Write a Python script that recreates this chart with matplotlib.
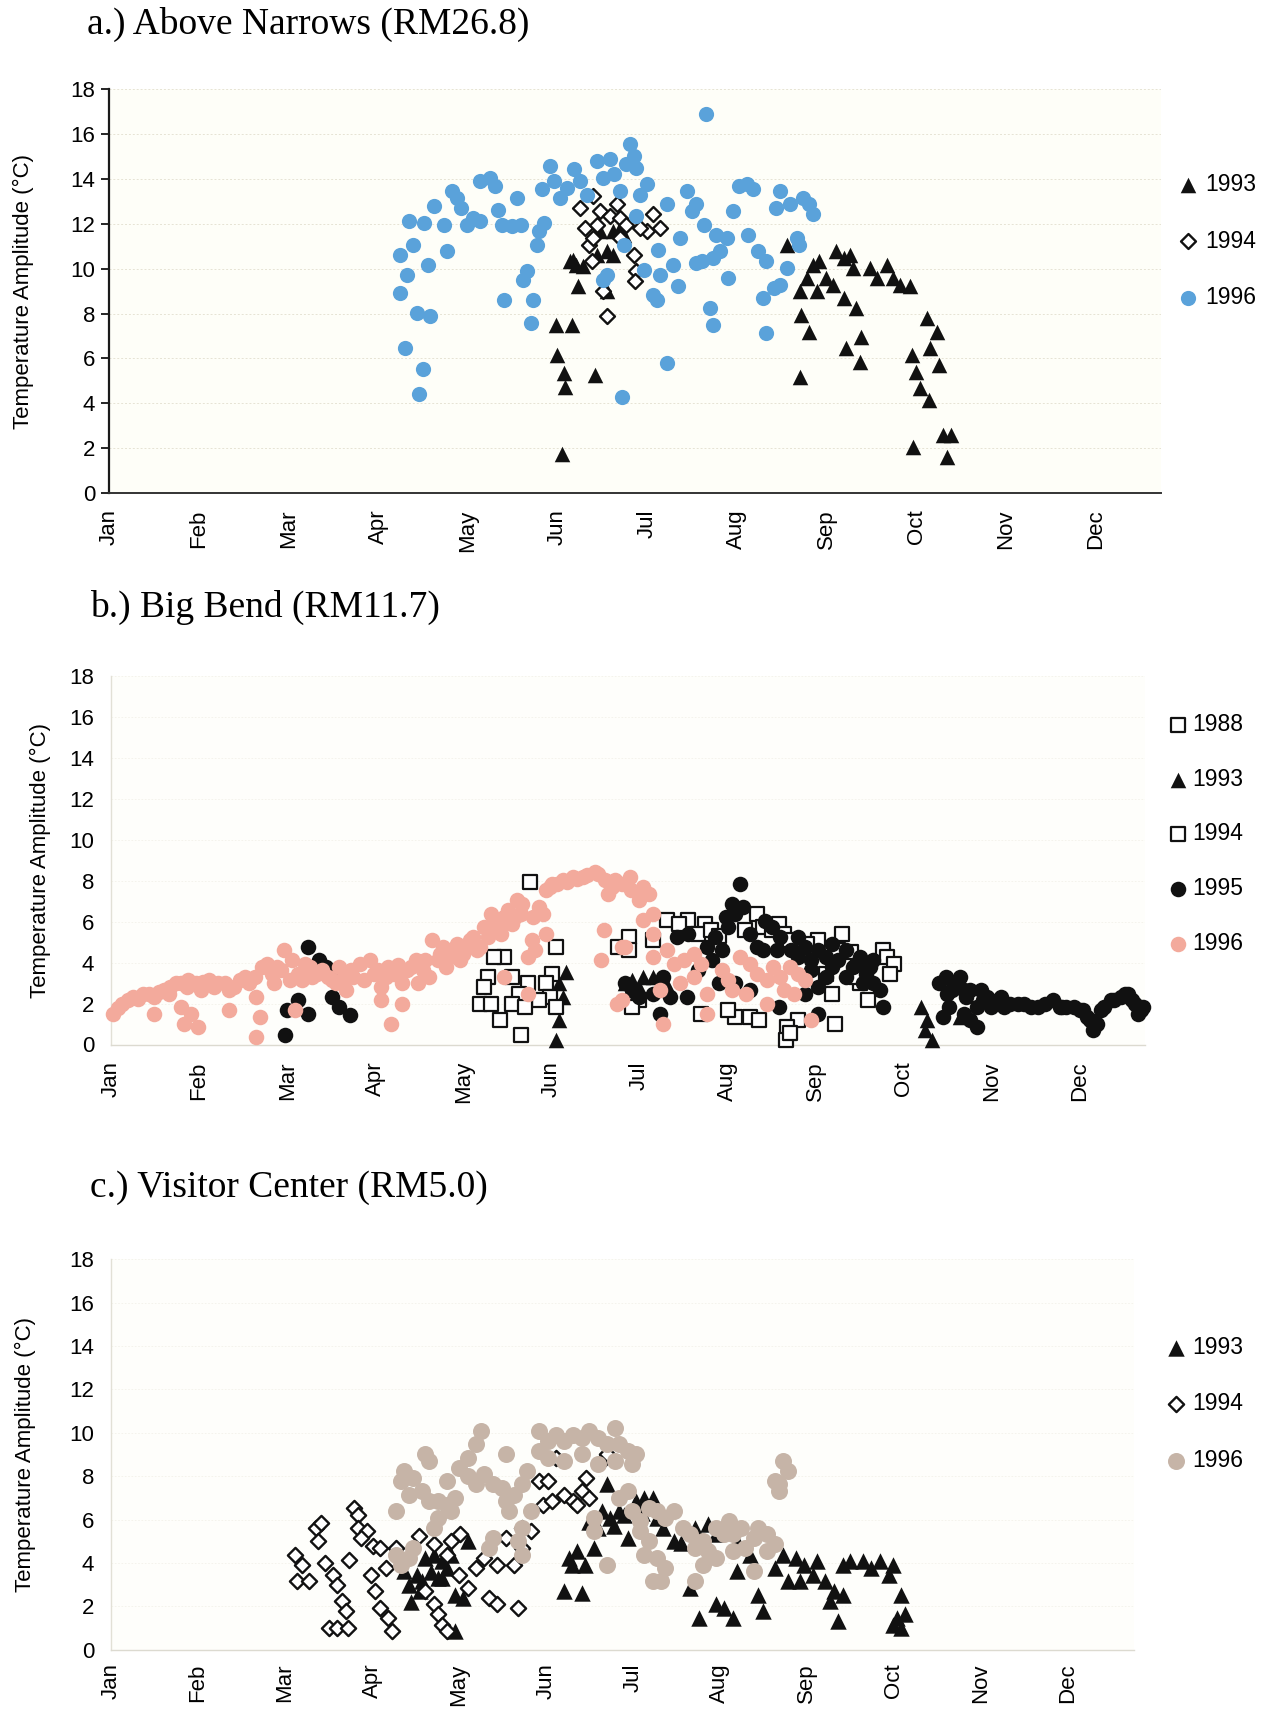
import matplotlib
matplotlib.use("Agg")
import matplotlib.pyplot as plt

plt.rcParams['font.family'] = ['Liberation Sans', 'DejaVu Sans']

MONTHS = ['Jan', 'Feb', 'Mar', 'Apr', 'May', 'Jun', 'Jul', 'Aug', 'Sep', 'Oct', 'Nov', 'Dec']
Y_TICKS = [0, 2, 4, 6, 8, 10, 12, 14, 16, 18]
TITLES = ['a.) Above Narrows (RM26.8)', 'b.) Big Bend (RM11.7)', 'c.) Visitor Center (RM5.0)']
YLABEL = 'Temperature Amplitude (°C)'

# x = month position (0 = 1 Jan, 1 = 1 Feb, ...), y = temperature amplitude (°C)
a_1993 = [(5.05,1.75),(4.98,7.49),(5.16,7.49),(5.0,6.15),(5.07,5.33),(5.09,4.73),(5.42,5.25),(5.23,9.21),
          (5.14,10.33),(5.21,10.18),(5.29,10.1),(5.47,11.67),(5.55,10.78),(5.62,11.67),(5.70,11.82),(5.44,10.63),
          (5.62,10.63),(5.74,11.52),(5.55,8.99),(5.17,10.4),
          (7.56,11.07),(7.70,8.99),(7.78,9.58),(7.85,10.18),(7.92,10.33),(7.99,9.58),(8.11,10.78),(8.19,10.48),
          (8.26,10.63),(8.30,10.03),(8.07,9.28),(7.89,8.99),(8.48,10.03),(8.56,9.58),(8.67,10.18),(8.74,9.58),
          (8.82,9.28),(8.93,9.21),(8.20,8.69),(8.33,8.24),(8.39,6.97),(8.22,6.45),(8.37,5.85),(7.72,7.94),
          (7.81,7.19),(7.70,5.18),(9.12,7.79),(9.23,7.19),(9.15,6.45),(9.26,5.70),(8.95,6.15),(9.0,5.40),
          (9.04,4.66),(9.14,4.13),(8.97,2.04),(9.30,2.57),(9.39,2.57),(9.34,1.60)]
a_1994 = [(5.25,12.72),(5.31,11.82),(5.35,11.07),(5.38,10.33),(5.47,12.57),(5.59,12.34),(5.66,12.87),(5.70,12.27),
          (5.77,11.97),(5.85,10.63),(5.88,9.88),(5.87,9.43),(5.51,8.99),(5.55,7.87),(6.0,11.67),(6.07,12.42),
          (6.14,11.82),(5.92,11.82),(5.40,11.37),(5.44,11.97),(5.70,11.37),(5.40,13.24)]
a_1996 = [(3.25,10.63),(3.39,11.07),(3.35,12.12),(3.24,8.91),(3.32,9.73),(3.56,10.18),(3.62,12.79),(3.51,12.04),
          (3.43,8.01),(3.58,7.87),(3.30,6.48),(3.50,5.52),(3.46,4.43),(3.73,11.97),(3.77,10.78),(3.82,13.46),
          (3.88,13.16),(3.93,12.72),(3.99,11.97),(4.06,12.27),(4.14,13.91),(4.25,14.06),(4.30,13.69),(4.14,12.12),
          (4.34,12.64),(4.38,11.97),(4.49,11.90),(4.55,13.16),(4.59,11.97),(4.40,8.61),(4.66,9.88),(4.62,9.51),
          (4.73,8.61),(4.71,7.57),(4.77,11.07),(4.79,11.67),(4.85,12.04),(4.83,13.54),(4.92,14.58),(4.96,13.91),
          (5.03,13.16),(5.11,13.61),(5.18,14.43),(5.25,13.91),(5.33,13.31),(5.44,14.81),(5.51,14.06),(5.59,14.88),
          (5.63,14.21),(5.70,13.46),(5.77,14.66),(5.81,15.55),(5.85,15.03),(5.88,14.51),(6.00,13.76),(5.92,13.31),
          (5.74,11.07),(5.88,12.34),(5.55,9.73),(5.51,9.51),(5.72,4.28),(6.12,10.85),(6.22,12.87),(6.07,8.84),
          (6.11,8.61),(5.96,9.96),(6.14,9.73),(6.29,10.18),(6.37,11.37),(6.35,9.21),(6.44,13.46),(6.50,12.57),
          (6.22,5.78),(6.55,10.25),
          (6.66,16.9),(6.55,12.87),(6.63,11.97),(6.77,11.52),(6.89,11.37),(6.81,10.78),(6.74,10.48),(6.61,10.33),
          (6.90,9.58),(6.70,8.24),(6.74,7.49),(6.96,12.57),(7.03,13.69),(7.11,13.76),(7.18,13.54),(7.13,11.52),
          (7.24,10.78),(7.33,10.33),(7.29,8.69),(7.33,7.12),(7.44,12.72),(7.48,13.46),(7.59,12.87),(7.74,13.16),
          (7.81,12.87),(7.85,12.42),(7.67,11.37),(7.69,11.07),(7.56,10.03),(7.48,9.28),(7.41,9.13)]

b_1988 = [(5.76,4.76),(6.31,6.07),(6.55,6.07),(6.74,5.9),(6.66,5.41),(6.81,5.58),(7.33,6.39),(7.40,5.72),
          (7.50,5.58),(7.58,5.90),(7.64,5.41),(7.71,5.09),(8.03,5.09),(8.30,5.41),(8.26,4.6),(8.77,4.6),
          (8.81,4.28),(8.89,3.95),(8.85,3.46),(8.50,2.98),(8.46,3.3),(8.19,2.49),(8.12,3.46),(8.59,2.16),
          (8.22,1.02),(7.80,1.19),(7.68,0.86),(7.66,0.21),(7.71,0.54),(7.25,1.35),(7.09,1.35),(7.36,1.19),
          (7.01,1.67),(6.70,1.51),(6.0,2.16),(6.15,5.1),(6.45,5.9),(6.9,5.3),(7.2,5.6),(7.9,4.9),(8.4,4.5)]
b_1993 = [(5.17,3.54),(5.09,2.98),(5.13,2.33),(5.05,2.0),(5.09,1.19),(5.05,0.2),(5.84,2.98),(5.92,2.65),
          (9.20,1.84),(9.27,1.19),(9.32,0.21),(9.24,0.7),(9.64,1.35),(5.92,3.14),(6.04,3.30),(6.15,3.30),
          (6.0,2.81),(5.89,2.65),(6.3,3.0)]
b_1994 = [(4.76,7.93),(5.05,4.76),(5.01,3.46),(4.94,2.98),(4.98,2.33),(4.86,2.16),(4.74,2.98),(4.63,2.49),
          (4.55,3.30),(4.46,4.28),(4.35,4.28),(4.28,3.30),(4.24,2.81),(4.19,2.0),(4.31,2.0),(4.42,1.19),
          (4.55,2.0),(4.70,1.84),(4.66,0.46),(5.05,1.84),(5.88,5.25),(5.88,4.60),(5.92,1.84)]
b_1995 = [(2.24,4.76),(2.36,4.11),(2.44,3.79),(2.55,3.63),(2.51,2.33),(2.59,1.84),(2.71,1.43),(2.24,1.51),
          (2.0,1.67),(2.12,2.16),(1.98,0.46),
          (7.14,7.85),(7.05,6.88),(7.09,6.39),(6.98,6.23),(7.18,6.72),(7.42,6.05),(7.50,5.72),(7.80,5.25),
          (7.88,4.76),(8.03,4.60),(8.12,4.28),(8.19,4.93),(8.26,4.11),(8.34,4.60),(8.42,3.79),(8.50,4.28),
          (8.57,3.46),(8.65,4.11),(8.65,2.98),(8.77,1.84),(7.95,3.63),(8.03,2.81),(8.12,3.30),(6.43,5.25),
          (6.55,5.41),(6.86,5.25),(6.77,4.76),(6.15,2.49),(6.23,1.51),(5.92,2.65),(7.25,2.65),(7.58,1.84),
          (7.88,2.49),(8.03,1.51),(5.84,2.98),(6.0,2.33),(6.27,3.30),(6.35,2.33),(6.54,2.33),(6.66,3.63),
          (6.82,4.11),(6.94,4.60),(7.01,5.74),(7.25,5.41),(7.33,4.76),(7.56,4.60),(7.60,5.25),(7.72,4.60),
          (7.80,4.28),(7.95,4.11),(8.19,3.79),(8.34,3.30),(8.46,3.95),(8.54,2.98),(8.62,3.79),(8.73,2.65),
          (7.40,4.60),(7.09,2.98),(6.90,2.98),
          (9.48,3.30),(9.64,3.30),(9.68,2.65),(9.55,2.65),(9.75,2.65),(9.88,2.65),(9.90,2.16),(10.07,2.16),
          (10.21,2.0),(10.37,2.0),(10.53,1.84),(10.69,2.16),(10.80,1.84),(10.93,1.84),(11.04,1.67),(11.15,0.7),
          (11.11,1.19),(11.28,1.84),(11.35,2.16),(11.51,2.49),(11.59,2.16),(11.66,1.51),(11.72,1.84),(9.75,1.19),
          (9.83,0.86),(9.68,1.51),(9.51,1.84),(9.45,1.35),
          (9.40,2.98),(9.49,2.49),(9.57,2.98),(9.71,2.33),(9.83,1.84),(9.95,2.33),(9.99,1.84),(10.10,2.33),
          (10.14,1.84),(10.30,2.0),(10.45,1.84),(10.61,2.0),(10.77,1.84),(10.84,1.84),(11.0,1.67),(11.08,1.35),
          (11.19,1.02),(11.24,1.67),(11.39,2.16),(11.47,2.33),(11.55,2.49),(11.63,2.0),(11.70,1.67)]
b_1996 = [(0.02,1.5),(0.12,2.0),(0.25,2.33),(0.36,2.49),(0.49,2.33),(0.60,2.65),(0.67,2.81),(0.80,2.98),
          (0.87,3.14),(0.49,1.51),(0.80,1.84),(0.83,1.02),(0.99,0.86),(0.91,1.51),(1.11,3.14),(1.02,2.65),
          (1.22,2.98),(1.34,1.67),(1.34,2.65),(1.47,3.14),(1.57,2.98),(1.65,2.33),(1.69,1.35),(1.77,3.95),
          (1.89,3.79),(1.96,4.60),(1.85,2.98),(1.65,0.37),(2.05,4.11),(2.12,3.46),(2.20,3.95),(2.28,3.30),
          (2.09,1.67),(2.40,3.63),(2.51,3.14),(2.59,3.79),(2.67,2.65),(2.75,3.30),(2.83,3.95),(2.94,4.11),
          (2.99,3.46),(3.06,2.81),(3.14,3.79),(3.21,3.46),(3.18,1.02),(3.06,2.16),(3.30,2.0),(3.30,2.98),
          (3.41,3.79),(3.49,2.98),(3.56,4.11),(3.65,5.09),(3.73,4.44),(3.80,3.79),(3.88,4.60),(3.96,4.11),
          (4.04,4.76),(4.11,5.25),(4.19,4.76),(4.24,5.74),(4.31,6.39),(4.39,5.74),(4.46,6.23),(4.55,5.90),
          (4.61,7.04),(4.66,6.39),(4.74,4.28),(4.78,5.09),(4.90,6.39),(4.94,7.53),(5.01,7.85),(5.13,8.02),
          (5.25,8.18),(5.36,8.18),(5.49,8.42),(4.94,5.41),(4.81,4.60),(4.46,3.30),(4.74,2.49),(5.60,5.58),
          (5.56,4.11),(5.75,2.0),(5.80,4.76),(5.64,7.37),(5.72,8.02),
          (0.08,1.76),(0.19,2.16),(0.31,2.24),(0.43,2.49),(0.54,2.57),(0.66,2.49),(0.74,2.98),(0.86,2.81),
          (0.97,2.98),(1.05,3.06),(1.17,2.81),(1.29,2.98),(1.40,2.81),(1.52,3.30),(1.64,3.30),(1.72,3.79),
          (1.83,3.46),(1.93,3.63),(2.03,3.14),(2.17,3.14),(2.26,3.79),(2.34,3.46),(2.46,3.30),(2.56,2.98),
          (2.64,3.30),(2.73,3.63),(2.87,3.14),(3.03,3.63),(3.12,3.30),(3.26,3.87),(3.36,3.63),(3.46,4.11),
          (3.54,3.63),(3.61,3.30),(3.71,4.11),(3.77,4.76),(3.85,4.28),(3.93,4.93),(4.00,4.44),(4.08,5.09),
          (4.16,4.60),(4.28,5.25),(4.36,5.90),(4.43,5.41),(4.51,6.55),(4.59,6.23),(4.67,6.88),(4.79,6.23),
          (4.86,6.72),(4.98,7.69),(5.06,7.85),(5.18,7.93),(5.29,8.10),(5.41,8.26),(5.53,8.34),(5.61,8.02),
          (5.69,7.69),(5.80,7.85),(5.90,7.53),
          (5.89,8.18),(6.04,7.69),(6.11,7.37),(6.0,7.04),(6.15,6.39),(6.04,6.07),(6.15,5.41),(5.84,4.76),
          (5.80,2.16),(6.23,2.65),(6.27,1.02),(6.15,4.28),(6.31,4.60),(6.39,3.95),(6.51,4.11),(6.62,4.44),
          (6.70,3.95),(6.62,3.30),(6.46,2.98),(6.77,2.49),(6.77,1.51),(6.94,3.63),(7.01,3.14),(7.14,4.28),
          (7.25,3.95),(7.21,2.49),(7.33,3.46),(7.45,3.14),(7.52,3.79),(7.60,3.30),(7.71,3.79),(7.80,3.46),
          (7.88,3.14),(7.45,2.0),(7.64,2.65),(7.76,2.49),(7.95,1.19),(7.05,2.65)]

c_1993 = [(3.42,3.0),(3.37,3.62),(3.52,3.46),(3.61,4.23),(3.71,4.38),(3.81,4.08),(3.91,4.38),(3.86,3.77),
          (3.76,3.31),(3.95,2.54),(4.05,2.38),(3.95,0.85),(3.57,3.15),(4.10,5.0),(5.21,2.69),(5.41,2.62),
          (5.26,4.23),(5.36,4.54),(5.45,3.92),(5.55,4.69),(5.70,7.62),(5.65,6.38),(5.74,6.08),(5.84,6.38),
          (5.94,5.15),(6.03,6.85),(6.13,7.0),(6.23,7.0),(6.28,6.08),(6.47,5.0),(6.71,5.62),(6.86,5.77),
          (6.96,5.31),(6.76,1.46),(6.95,2.08),(7.05,1.92),(7.15,1.46),(7.20,3.62),(7.34,4.38),(7.44,2.54),
          (7.49,1.77),(7.63,3.77),(7.73,4.38),(7.88,4.23),(7.97,3.92),(8.12,4.08),(8.07,3.46),(7.78,3.15),
          (7.92,3.15),(8.21,3.15),(8.31,2.69),(8.26,2.23),(8.36,1.31),(8.41,2.54),(8.41,3.92),(8.50,4.08),
          (8.65,4.08),(8.74,3.77),(8.84,4.08),(8.94,3.46),(8.99,3.92),(9.08,2.54),(9.03,1.46),(9.13,1.62),
          (8.99,1.15),(9.08,1.0),(6.66,2.85),(7.20,5.0),(5.30,3.9),(5.50,5.9),(5.60,5.6),(5.78,5.7),
          (5.90,6.2),(6.10,6.3),(6.35,5.6),(6.55,4.9),(3.45,2.2),(3.55,2.7),(3.68,3.6),(3.80,3.3)]
c_1994 = [(2.12,4.38),(2.19,3.92),(2.14,3.15),(2.28,3.15),(2.36,5.62),(2.41,5.85),(2.38,5.0),(2.46,4.0),
          (2.55,3.46),(2.60,3.0),(2.65,2.23),(2.70,1.77),(2.51,1.0),(2.60,1.0),(2.72,1.0),(2.74,4.15),
          (2.79,6.54),(2.84,6.23),(2.84,5.62),(2.94,5.46),(2.87,5.15),(3.01,4.77),(3.09,4.69),(2.99,3.46),
          (3.04,2.69),(3.09,1.92),(3.19,1.46),(3.23,0.85),(3.16,3.77),(3.28,4.69),(3.54,5.23),(3.71,4.85),
          (3.91,5.0),(4.01,5.31),(3.86,4.38),(3.61,2.69),(3.71,2.08),(3.76,1.62),(3.81,1.15),(3.86,0.85),
          (4.0,3.46),(4.10,2.85),(4.20,3.77),(4.29,4.23),(4.34,2.38),(4.44,2.08),(4.44,3.92),(4.54,5.15),
          (4.63,3.92),(4.68,1.92),(4.73,5.62),(4.73,4.69),(4.83,5.46),(4.92,7.77),(4.97,6.69),(5.02,7.77),
          (5.07,6.85),(5.12,8.85),(5.21,7.15),(5.31,6.85),(5.36,6.69),(5.41,7.31),(5.46,7.92),(5.50,7.0),
          (5.65,8.69),(5.70,9.0)]
c_1996 = [(4.25,10.08),(4.20,9.46),(4.10,8.85),(4.0,8.38),(3.86,7.77),(3.66,8.69),(3.61,9.0),(3.47,7.92),
          (3.37,8.23),(3.33,7.77),(3.42,7.15),(3.57,7.31),(3.66,6.85),(3.76,6.85),(3.86,6.69),(3.96,7.0),
          (3.91,6.38),(3.76,6.08),(3.71,5.62),(3.28,6.38),(3.28,4.38),(3.33,3.92),(3.42,4.23),(3.47,4.69),
          (4.10,8.0),(4.20,7.62),(4.29,8.08),(4.39,7.62),(4.49,7.46),(4.54,9.0),(4.54,6.85),(4.58,6.38),
          (4.63,7.15),(4.73,7.62),(4.78,8.23),(4.83,6.38),(4.73,5.62),(4.68,5.0),(4.73,4.38),(4.39,5.15),
          (4.34,4.69),(4.92,10.08),(5.02,9.62),(5.12,9.92),(5.21,9.62),(5.31,9.92),(5.41,9.77),(5.50,10.08),
          (5.60,9.77),(5.70,9.46),(5.79,10.23),(5.84,9.46),(5.94,9.15),(6.04,9.0),(5.99,8.54),(4.92,9.15),
          (5.02,8.85),(5.21,8.69),(5.41,9.0),(5.60,8.54),(5.79,8.69),(5.94,7.31),(5.84,7.0),(5.55,6.08),
          (5.55,5.46),(5.70,3.92),(5.99,6.38),(6.08,5.92),(6.18,6.54),(6.28,6.38),(6.37,6.08),(6.47,6.38),
          (6.08,5.46),(6.18,5.0),(6.13,4.38),(6.28,4.23),(6.37,3.77),(6.32,3.15),(6.23,3.15),(6.71,3.15),
          (6.57,5.62),(6.66,5.31),(6.71,4.69),(6.81,5.0),(6.86,4.54),(6.95,5.62),(7.05,5.31),(7.10,5.92),
          (7.15,5.31),(7.24,5.62),(7.29,4.69),(7.39,5.15),(7.44,5.62),(7.54,5.31),(7.54,4.54),(7.63,4.85),
          (7.15,4.54),(6.95,4.23),(6.81,3.92),(7.39,3.62),(7.73,8.69),(7.78,8.23),(7.68,7.62),(7.63,7.77),
          (7.68,7.31)]

BLACK = '#111111'
BLUE = '#5aa2da'
PINK = '#f3aa9c'
TAN = '#c6b4a7'

TICK_FS = 16
LEG_FS = 16.5
TITLE_FS = 27

W, H = 1268, 1710
fig = plt.figure(figsize=(W / 100, H / 100), dpi=100, facecolor='white')


def frac_axes(left, top, right, bottom):
    return fig.add_axes([left / W, 1 - bottom / H, (right - left) / W, (bottom - top) / H])


def plot_series(ax, pts, **kw):
    xs = [p[0] for p in pts]
    ys = [p[1] for p in pts]
    return ax.scatter(xs, ys, clip_on=False, **kw)


def style_axes(ax, xmax, strong, label_x, xpad):
    ax.set_xlim(0, xmax)
    ax.set_ylim(0, 18)
    ax.set_xticks(range(12))
    ax.set_xticklabels(MONTHS, rotation=90, fontsize=TICK_FS)
    ax.set_yticks(Y_TICKS)
    ax.set_yticklabels([str(v) for v in Y_TICKS], fontsize=TICK_FS)
    for s in ('top', 'right'):
        ax.spines[s].set_visible(False)
    if strong:
        ax.set_facecolor('#fefef8')
        ax.spines['left'].set_color('#1a1a1a')
        ax.spines['left'].set_linewidth(1.6)
        ax.spines['bottom'].set_color('#333333')
        ax.spines['bottom'].set_linewidth(1.4)
        ax.tick_params(axis='y', length=6, width=1.2, pad=4)
        ax.yaxis.grid(True, color='#e6e3d4', linestyle=(0, (2, 2)), linewidth=0.7)
    else:
        ax.set_facecolor('#fefefb')
        ax.spines['left'].set_color('#e2e0d6')
        ax.spines['bottom'].set_color('#dcdad0')
        ax.spines['left'].set_linewidth(1.0)
        ax.spines['bottom'].set_linewidth(1.0)
        ax.tick_params(axis='y', length=0, pad=12)
        ax.yaxis.grid(True, color='#f3f2ea', linestyle=(0, (2, 2)), linewidth=0.6)
    ax.tick_params(axis='x', length=0, pad=xpad)
    ax.set_axisbelow(True)
    ax.set_ylabel(YLABEL, fontsize=TICK_FS)
    ax.yaxis.set_label_coords(label_x, 0.5)


def add_legend(ax, handles, labels, x, y, spacing, textpad):
    ax.legend(handles, labels, loc='center left', bbox_to_anchor=(x, y),
              bbox_transform=fig.transFigure, frameon=False, fontsize=LEG_FS,
              labelspacing=spacing, handlelength=0.85, handletextpad=textpad,
              borderpad=0, borderaxespad=0, scatterpoints=1)


# ---- panel a ----
fig.text(87 / W, 1 - 24 / H, TITLES[0], family='Liberation Serif', fontsize=TITLE_FS, va='center', ha='left')
axa = frac_axes(109, 89.4, 1161, 492.8)
style_axes(axa, 11.73, True, -0.0713, 12)
h1 = plot_series(axa, a_1993, marker='^', s=125, color=BLACK, linewidths=0, zorder=3)
h2 = plot_series(axa, a_1994, marker='D', s=58, facecolors='white', edgecolors=BLACK, linewidths=1.7, zorder=3)
h3 = plot_series(axa, a_1996, marker='o', s=120, color=BLUE, linewidths=0, zorder=3)
add_legend(axa, [h1, h2, h3], ['1993', '1994', '1996'], 1178 / W, 1 - 241 / H, 1.45, 0.34)

# ---- panel b ----
fig.text(90 / W, 1 - 607 / H, TITLES[1], family='Liberation Serif', fontsize=TITLE_FS, va='center', ha='left')
axb = frac_axes(111, 676, 1145, 1044.5)
style_axes(axb, 11.74, False, -0.058, 12)
g1 = plot_series(axb, b_1988, marker='s', s=100, facecolors='white', edgecolors=BLACK, linewidths=1.6, zorder=3)
g2 = plot_series(axb, b_1993, marker='^', s=125, color=BLACK, linewidths=0, zorder=3)
g3 = plot_series(axb, b_1994, marker='s', s=100, facecolors='white', edgecolors=BLACK, linewidths=1.6, zorder=3)
g4 = plot_series(axb, b_1995, marker='o', s=125, color=BLACK, linewidths=0, zorder=3)
g5 = plot_series(axb, b_1996, marker='o', s=125, color=PINK, linewidths=0, zorder=3)
add_legend(axb, [g1, g2, g3, g4, g5], ['1988', '1993', '1994', '1995', '1996'],
           1168 / W, 1 - 834 / H, 1.38, 0.22)

# ---- panel c ----
fig.text(90 / W, 1 - 1188 / H, TITLES[2], family='Liberation Serif', fontsize=TITLE_FS, va='center', ha='left')
axc = frac_axes(111, 1259.3, 1134, 1649.6)
style_axes(axc, 11.76, False, -0.0733, 10)
k1 = plot_series(axc, c_1993, marker='^', s=140, color=BLACK, linewidths=0, zorder=3)
k2 = plot_series(axc, c_1994, marker='D', s=60, facecolors='white', edgecolors=BLACK, linewidths=1.7, zorder=3)
k3 = plot_series(axc, c_1996, marker='o', s=150, color=TAN, linewidths=0, zorder=3)
add_legend(axc, [k1, k2, k3], ['1993', '1994', '1996'], 1166 / W, 1 - 1404 / H, 1.45, 0.3)

fig.savefig('out.png', dpi=100, facecolor='white')
